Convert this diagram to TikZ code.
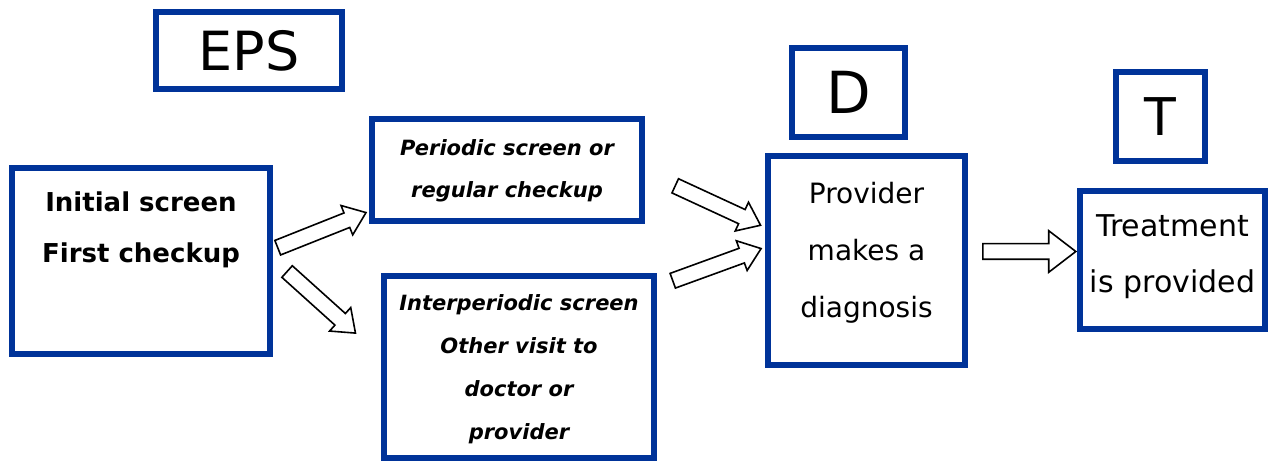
\documentclass[tikz,border=0pt]{standalone}
\usepackage{fontspec}
\setmainfont{DejaVu Sans}
\usetikzlibrary{shapes.arrows}
\definecolor{epsblue}{RGB}{0,51,153}

\begin{document}
\begin{tikzpicture}[x=1pt,y=-1pt,
	bluebox/.style={draw=epsblue, line width=6pt, fill=white, inner sep=0pt, align=center},
	fatarrow/.style={single arrow, draw=black, fill=white, line width=1.6pt, inner xsep=0pt, inner ysep=7pt,
		single arrow head extend=8pt, single arrow tip angle=75, anchor=tail}]
	\useasboundingbox (0,0) rectangle (1270,462);
	% labels on top
	\node[bluebox, minimum width=186pt, minimum height=77pt, font=\fontsize{54}{60}\selectfont] (eps) at (249,50.5) {EPS};
	\node[bluebox, minimum width=113pt, minimum height=89pt, font=\fontsize{58}{64}\selectfont] (d) at (848.5,92.5) {D};
	\node[bluebox, minimum width=89pt, minimum height=89pt, font=\fontsize{52}{60}\selectfont] (t) at (1160.5,116.5) {T};
	% steps
	\node[bluebox, minimum width=258pt, minimum height=186pt, text depth=67pt, font=\fontsize{26}{51}\selectfont\bfseries] (init) at (141,261) {Initial screen\\First checkup};
	\node[bluebox, minimum width=270pt, minimum height=102pt, text depth=2pt, font=\fontsize{21}{42}\selectfont\bfseries\itshape] (periodic) at (507,170) {Periodic screen or\\regular checkup};
	\node[bluebox, minimum width=270pt, minimum height=182pt, text depth=0pt, font=\fontsize{21}{43}\selectfont\bfseries\itshape] (inter) at (519,367) {Interperiodic screen\\Other visit to\\doctor or\\provider};
	\node[bluebox, minimum width=197pt, minimum height=209pt, text depth=22pt, font=\fontsize{28}{57}\selectfont] (diag) at (866.5,260.5) {Provider\\makes a\\diagnosis};
	\node[bluebox, minimum width=185pt, minimum height=138pt, text depth=13pt, font=\fontsize{30}{56}\selectfont] (treat) at (1172.5,260) {Treatment\\is provided};
	% arrows
	\node[fatarrow, minimum height=95pt, rotate=21.7] (a1) at (277,248) {};
	\node[fatarrow, minimum height=92pt, rotate=-42] (a2) at (286.5,271) {};
	\node[fatarrow, minimum height=94pt, rotate=-24.8] (a3) at (674.5,185.5) {};
	\node[fatarrow, minimum height=94pt, rotate=20] (a4) at (672,281) {};
	\node[fatarrow, minimum height=93pt, single arrow head extend=13pt] (a5) at (982,251.5) {};
\end{tikzpicture}
\end{document}
